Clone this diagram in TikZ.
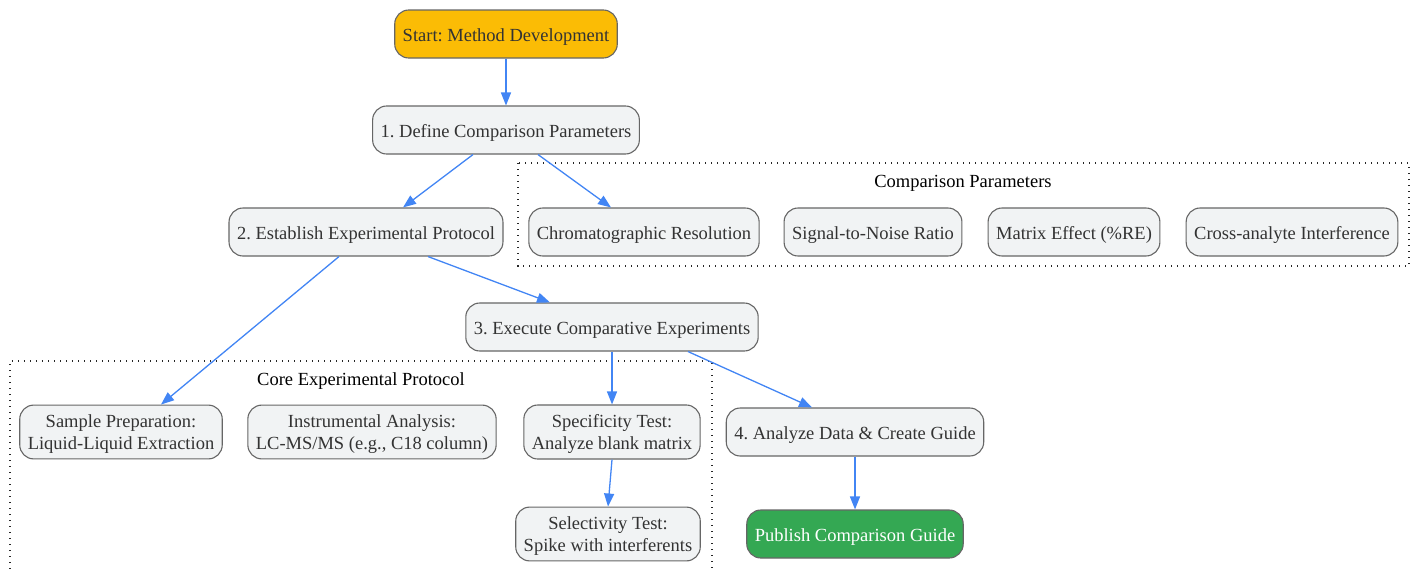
\documentclass[tikz,border=0pt]{standalone}
\usepackage{fontspec}
\setmainfont{Liberation Serif}
\frenchspacing
\usetikzlibrary{arrows.meta,positioning}
\definecolor{startcol}{HTML}{FBBC05}
\definecolor{donecol}{HTML}{34A853}
\definecolor{boxcol}{HTML}{F1F3F4}
\definecolor{flowcol}{HTML}{4285F4}
\definecolor{rimcol}{HTML}{666666}
\definecolor{inkcol}{HTML}{333333}

\begin{document}
\begin{tikzpicture}[x=1pt, y=-1pt,
    boxbase/.style={draw=rimcol, line width=1.1pt, fill=boxcol, rounded corners=14pt, minimum height=48pt, inner xsep=8pt, align=center, text=inkcol, font=\fontsize{18.5}{22}\selectfont},
    box/.style={boxbase, text height=18pt, text depth=4pt, inner ysep=7pt},
    twoline/.style={boxbase, text depth=0pt, inner ysep=9.5pt},
    flow/.style={draw=flowcol, line width=1.3pt, -{Triangle[length=13pt,width=10pt]}},
    group/.style={draw=black!85, line width=1.2pt, dash pattern=on 1.2pt off 4.8pt},
    grouplabel/.style={text=black, font=\fontsize{18.5}{22}\selectfont}]
    \useasboundingbox (0,0) rectangle (1417,570);

    % Clusters
    \draw[group] (518,163) rectangle (1409,266);
    \node[grouplabel] (paramlabel) at (963,183) {Comparison Parameters};
    \draw[group] (10,575) -- (10,361) -- (712,361) -- (712,575);
    \node[grouplabel] (corelabel) at (361,381) {Core Experimental Protocol};

    % Main steps
    \node[box, fill=startcol] (start) at (506,34) {Start: Method Development};
    \node[box] (define) at (506,130) {1. Define Comparison Parameters};
    \node[box] (establish) at (366,232) {2. Establish Experimental Protocol};
    \node[box] (execute) at (612,327) {3. Execute Comparative Experiments};
    \node[box] (analyze) at (855,432) {4. Analyze Data \& Create Guide};
    \node[box, fill=donecol, text=white] (publish) at (855,534) {Publish Comparison Guide};

    % Parameters
    \node[box] (chrom) at (644,232) {Chromatographic Resolution};
    \node[box] (snr) at (873,232) {Signal-to-Noise Ratio};
    \node[box] (matrix) at (1074,232) {Matrix Effect (\%RE)};
    \node[box] (cross) at (1292,232) {Cross-analyte Interference};

    % Protocol
    \node[twoline] (sample) at (121,432) {Sample Preparation:\\Liquid-Liquid Extraction};
    \node[twoline] (instrument) at (372,432) {Instrumental Analysis:\\LC-MS/MS (e.g., C18 column)};
    \node[twoline] (specific) at (612,432) {Specificity Test:\\Analyze blank matrix};
    \node[twoline] (select) at (608,534) {Selectivity Test:\\Spike with interferents};

    % Connectors
    \draw[flow] (start) -- (define);
    \draw[flow] ([xshift=-33pt]define.south) -- ([xshift=37pt]establish.north);
    \draw[flow] ([xshift=32pt]define.south) -- ([xshift=-33pt]chrom.north);
    \draw[flow] ([xshift=62pt]establish.south) -- ([xshift=-62pt]execute.north);
    \draw[flow] ([xshift=-27pt]establish.south) -- ([xshift=40pt]sample.north);
    \draw[flow] (execute) -- (specific);
    \draw[flow] ([xshift=76pt]execute.south) -- ([xshift=-43pt]analyze.north);
    \draw[flow] (specific.south) -- (select.north);
    \draw[flow] (analyze) -- (publish);
\end{tikzpicture}
\end{document}
